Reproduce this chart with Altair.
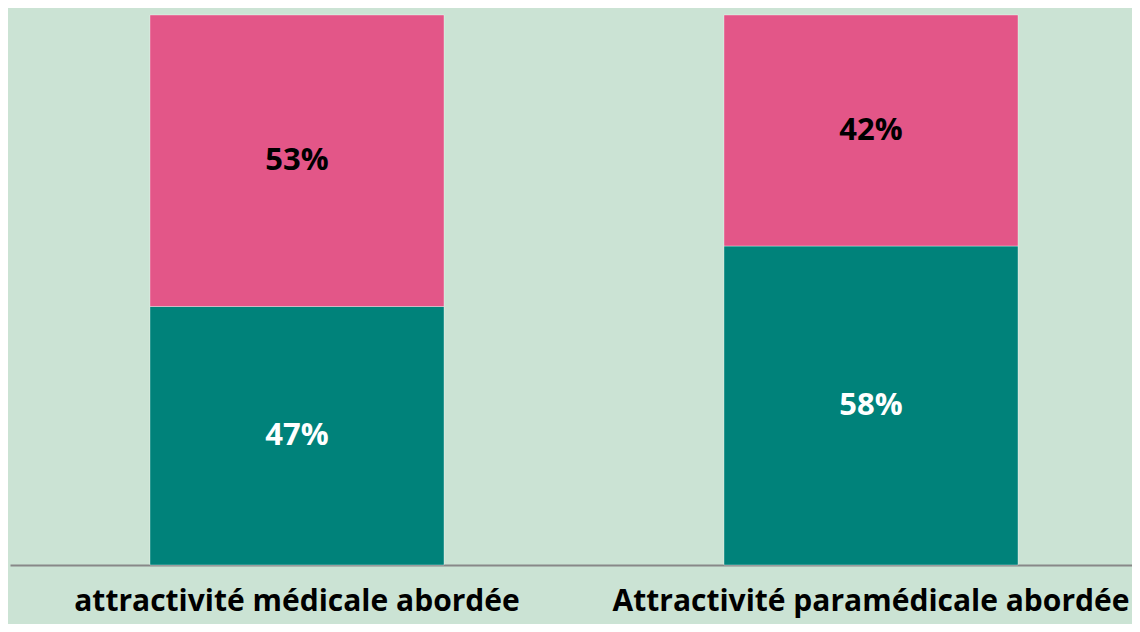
import altair as alt
import pandas as pd

categories = ["attractivité médicale abordée", "Attractivité paramédicale abordée"]
series = ["Oui", "Non"]
values_oui = [47, 58]
values_non = [53, 42]

rows = []
for i, c in enumerate(categories):
    rows.append({"cat": c, "serie": series[0], "ordre": 0, "value": values_oui[i]})
    rows.append({"cat": c, "serie": series[1], "ordre": 1, "value": values_non[i]})
df = pd.DataFrame(rows)

BG = "#CBE3D4"
PINK = "#E35688"
TEAL = "#00827A"

x = alt.X(
    "cat:N",
    sort=categories,
    title=None,
    scale=alt.Scale(range=[0, 1148], paddingInner=0.4878, paddingOuter=0.2439),
    axis=alt.Axis(
        labelAngle=0,
        ticks=False,
        tickSize=0,
        domainColor="#888888",
        domainWidth=2,
        labelFont="Open Sans",
        labelFontWeight="bold",
        labelFontSize=30,
        labelColor="#000000",
        labelPadding=45,
        labelBaseline="alphabetic",
        labelLimit=0,
    ),
)

base = (
    alt.Chart(df)
    .transform_stack(stack="value", groupby=["cat"], as_=["v0", "v1"], sort=[alt.SortField("ordre")])
    .transform_calculate(mid="(datum.v0 + datum.v1) / 2", label="datum.value + '%'")
)

yscale = alt.Scale(domain=[0, 100], nice=False, zero=True)

bars = base.mark_bar(stroke="#ffffff", strokeOpacity=0.35, strokeWidth=1).encode(
    x=x,
    y=alt.Y("v0:Q", scale=yscale, axis=None),
    y2="v1:Q",
    color=alt.Color("serie:N", scale=alt.Scale(domain=series, range=[TEAL, PINK]), legend=None),
)

texts = base.mark_text(font="Open Sans", fontWeight="bold", fontSize=31, baseline="middle", align="center").encode(
    x=x,
    y=alt.Y("mid:Q", scale=yscale, axis=None),
    text="label:N",
    color=alt.condition(alt.datum.serie == "Oui", alt.value("#FFFFFF"), alt.value("#000000")),
)

chart = (
    alt.layer(bars, texts)
    .properties(
        width=1122,
        height=550,
        autosize=alt.AutoSizeParams(type="none"),
        padding={"left": 2, "top": 7, "right": 0, "bottom": 59},
        background=BG,
    )
    .configure_view(stroke=None, fill=BG)
)

chart.save("out.html", embed_options={"renderer": "svg", "actions": False})
